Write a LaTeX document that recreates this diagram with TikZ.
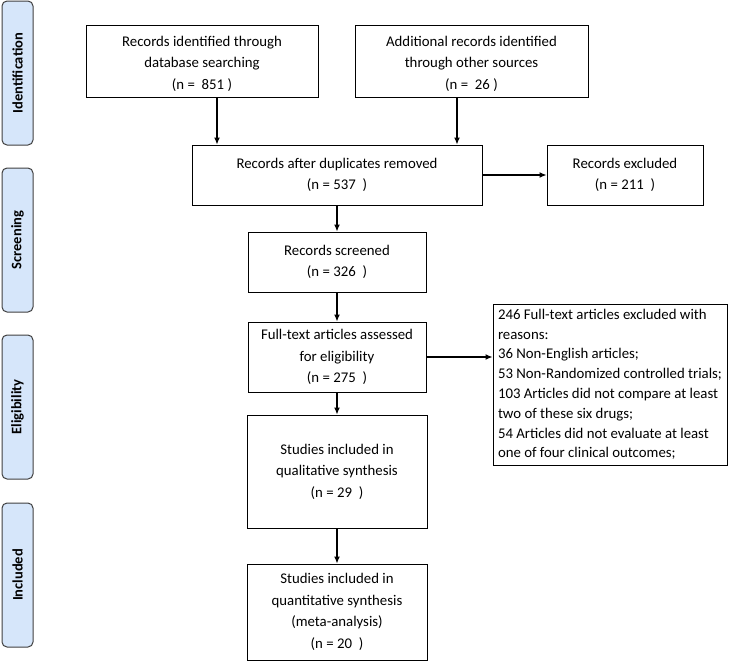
\documentclass[tikz,border=0pt]{standalone}
\usepackage{fontspec}
\setmainfont{Carlito}
\usetikzlibrary{arrows.meta}
\definecolor{phasefill}{HTML}{D6E6FA}
\definecolor{phaseline}{HTML}{404040}
\tikzset{
  box/.style={draw=black, line width=1pt, align=center, font=\fontsize{14.8}{21.5}\selectfont, inner sep=2pt},
  phase/.style={draw=phaseline, fill=phasefill, line width=1pt, rounded corners=5pt, minimum width=31pt, minimum height=144pt, inner sep=0pt},
  phasetext/.style={rotate=90, font=\fontsize{14.5}{17}\selectfont\bfseries},
  arr/.style={line width=1.2pt, -{Latex[length=7pt,width=6pt]}}
}
\begin{document}
\begin{tikzpicture}[x=1pt,y=-1pt]
\useasboundingbox (0,0) rectangle (740,662);
% phase labels
\node[phase] (ph1) at (17.5,73) {};
\node[phasetext] at (ph1) {Identification};
\node[phase] (ph2) at (17.5,240) {};
\node[phasetext] at (ph2) {Screening};
\node[phase] (ph3) at (17.5,407) {};
\node[phasetext] at (ph3) {Eligibility};
\node[phase] (ph4) at (17.5,575) {};
\node[phasetext] at (ph4) {Included};
% boxes
\node[box, minimum width=232pt, minimum height=72pt] (db) at (202,61) {\rule{0pt}{16pt}Records identified through\\database searching\\(n = \ 851 )};
\node[box, minimum width=233pt, minimum height=72pt] (other) at (471.5,61) {\rule{0pt}{16pt}Additional records identified\\through other sources\\(n = \ 26 )};
\node[box, minimum width=290pt, minimum height=60pt] (dup) at (337,175) {Records after duplicates removed\\(n = 537 \ )};
\node[box, minimum width=156pt, minimum height=60pt] (excl) at (625,175) {Records excluded\\(n = 211 \ )};
\node[box, minimum width=178pt, minimum height=60pt] (scr) at (337,262) {Records screened\\(n = 326 \ )};
\node[box, minimum width=178pt, minimum height=70pt] (full) at (337,357) {Full-text articles assessed\\for eligibility\\(n = 275 \ )};
\node[box, minimum width=234pt, minimum height=161pt, align=left, font=\fontsize{14.8}{19.8}\selectfont] (reas) at (610,384.5) {246 Full-text articles excluded with\\reasons:\\36 Non-English articles;\\53 Non-Randomized controlled trials;\\103 Articles did not compare at least\\two of these six drugs;\\54 Articles did not evaluate at least\\one of four clinical outcomes;};
\node[box, minimum width=180pt, minimum height=113pt] (qual) at (337,471.5) {Studies included in\\qualitative synthesis\\(n = 29 \ )};
\node[box, minimum width=180pt, minimum height=96pt] (quant) at (337,612) {Studies included in\\quantitative synthesis\\(meta-analysis)\\(n = 20 \ )};
% arrows
\draw[arr] ([xshift=15pt]db.south) -- ([xshift=15pt]db.south |- dup.north);
\draw[arr] ([xshift=-14.5pt]other.south) -- ([xshift=-14.5pt]other.south |- dup.north);
\draw[arr] (dup) -- (excl);
\draw[arr] (dup) -- (scr);
\draw[arr] (scr) -- (full);
\draw[arr] (full) -- (full -| reas.west);
\draw[arr] (full) -- (qual);
\draw[arr] (qual) -- (quant);
\end{tikzpicture}
\end{document}
